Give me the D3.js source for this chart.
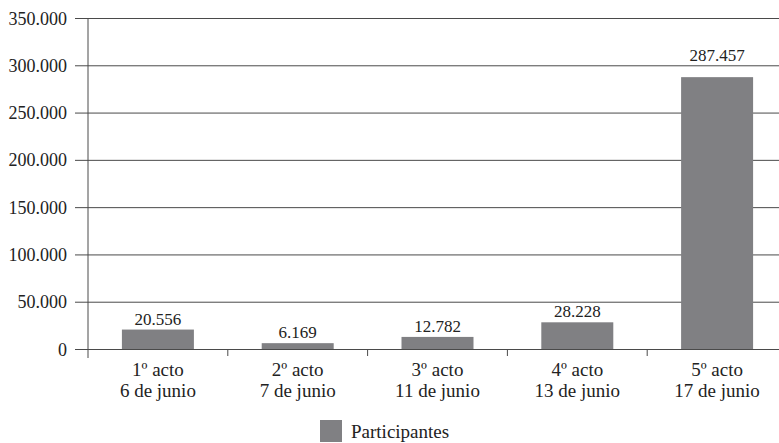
<!DOCTYPE html>
<html>
<head>
<meta charset="utf-8">
<script src="https://cdn.jsdelivr.net/npm/d3@7"></script>
<style>
	body { margin: 0; background: #fff; }
	svg text { font-family: "Liberation Serif", serif; fill: #222; }
</style>
</head>
<body>
<div id="chart"></div>
<script>
const actos = ['1º acto', '2º acto', '3º acto', '4º acto', '5º acto'];
const fechas = ['6 de junio', '7 de junio', '11 de junio', '13 de junio', '17 de junio'];
const participantes = [20556, 6169, 12782, 28228, 287457];
const yTicks = [0, 50000, 100000, 150000, 200000, 250000, 300000, 350000];
const serie = 'Participantes';

const W = 779, H = 443;
const mLeft = 88, mRight = 787, mTop = 18, mBottom = 349;
const FONT = '"Liberation Serif", serif';

const fmt = v => d3.format(',')(v).replace(/,/g, '.');

const svg = d3.select('#chart')
	.append('svg')
	.attr('width', W)
	.attr('height', H)
	.attr('font-family', FONT);

const x = d3.scaleBand()
	.domain(d3.range(actos.length))
	.range([mLeft, mRight])
	.paddingInner(0.485)
	.paddingOuter(0.2425);

const xb = d3.scaleBand()
	.domain(d3.range(actos.length))
	.range([mLeft, mRight]);

const y = d3.scaleLinear()
	.domain([0, 350000])
	.range([mBottom, mTop]);

// gridlines + y labels
const yAxis = d3.axisLeft(y)
	.tickValues(yTicks)
	.tickSize(-(W - mLeft))
	.tickSizeOuter(0)
	.tickPadding(8)
	.tickFormat(fmt);

const gy = svg.append('g')
	.attr('transform', `translate(${mLeft},0)`)
	.call(yAxis)
	.attr('font-family', FONT);
gy.select('.domain').remove();
gy.selectAll('.tick line')
	.attr('x1', -13)
	.attr('stroke', '#4a4a4a');
gy.selectAll('.tick text')
	.attr('x', -21)
	.attr('dy', '0.34em')
	.style('font-size', '18px')
	.attr('fill', '#222');

// vertical axis line
svg.append('line')
	.attr('x1', mLeft).attr('x2', mLeft)
	.attr('y1', mTop).attr('y2', mBottom + 9)
	.attr('stroke', '#4a4a4a');

// category ticks
svg.selectAll('.cat-tick')
	.data(d3.range(1, actos.length))
	.enter()
	.append('line')
	.attr('x1', d => xb(d)).attr('x2', d => xb(d))
	.attr('y1', mBottom).attr('y2', mBottom + 7)
	.attr('stroke', '#4a4a4a');

// bars
svg.selectAll('.bar')
	.data(participantes)
	.enter()
	.append('rect')
	.attr('x', (d, i) => x(i))
	.attr('width', x.bandwidth())
	.attr('y', d => y(d))
	.attr('height', d => mBottom - y(d))
	.attr('fill', '#808083');

// value labels, pushed above a gridline if they would cross it
svg.selectAll('.val')
	.data(participantes)
	.enter()
	.append('text')
	.attr('x', (d, i) => x(i) + x.bandwidth() / 2)
	.attr('y', d => {
		let b = y(d) - 5;
		yTicks.forEach(t => {
			const gl = y(t);
			if (gl < b && gl > b - 12) b = gl - 4;
		});
		return b;
	})
	.attr('text-anchor', 'middle')
	.style('font-size', '17px')
	.text(d => fmt(d));

// category labels
const cat = svg.selectAll('.cat')
	.data(actos)
	.enter()
	.append('text')
	.attr('text-anchor', 'middle')
	.style('font-size', '19px');
cat.append('tspan')
	.attr('x', (d, i) => xb(i) + xb.bandwidth() / 2)
	.attr('y', 376)
	.text(d => d);
cat.append('tspan')
	.attr('x', (d, i) => xb(i) + xb.bandwidth() / 2)
	.attr('y', 397)
	.text((d, i) => fechas[i]);

// legend
svg.append('rect')
	.attr('x', 320).attr('y', 420)
	.attr('width', 22).attr('height', 22)
	.attr('fill', '#808083');
svg.append('text')
	.attr('x', 351).attr('y', 438)
	.style('font-size', '19px')
	.text(serie);
</script>
</body>
</html>
